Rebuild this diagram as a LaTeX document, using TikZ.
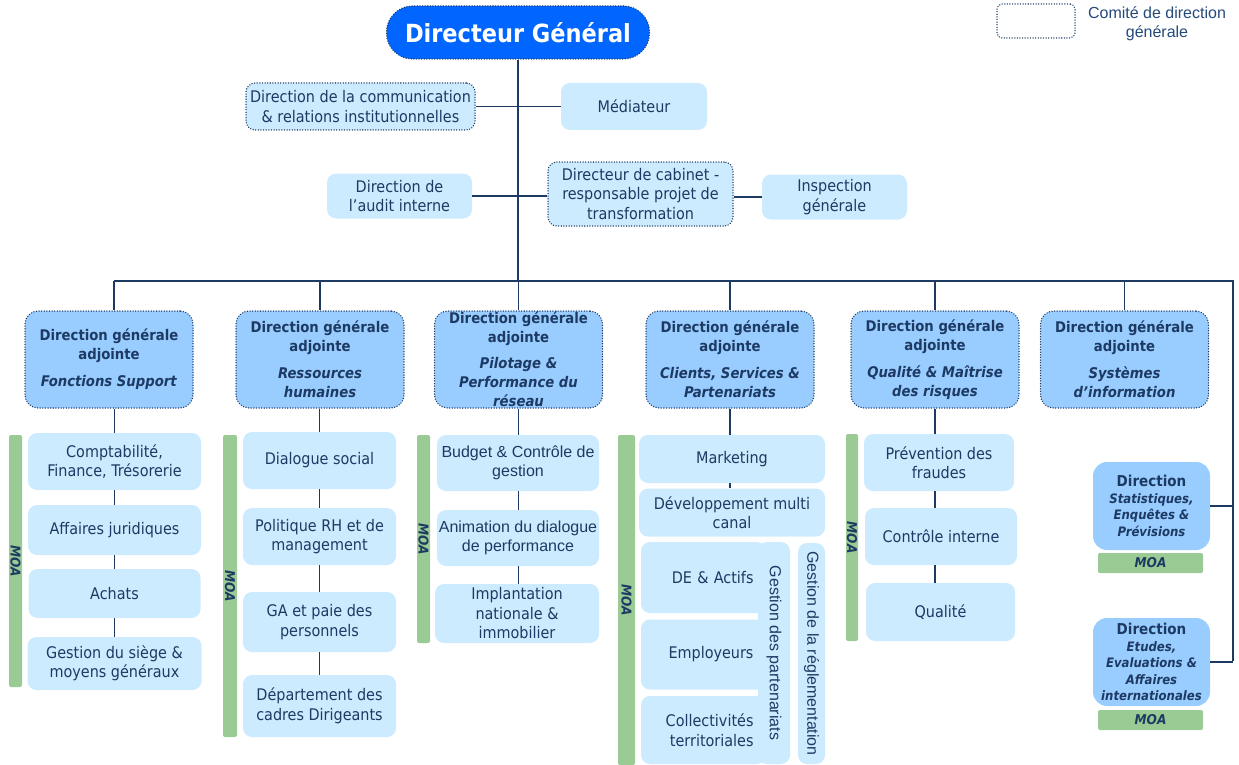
\documentclass[tikz,border=0pt]{standalone}
\usepackage{fontspec}
\setmainfont{DejaVu Sans Condensed}
\newfontfamily\arialf{Liberation Sans}
\definecolor{navy}{HTML}{1D3A63}
\definecolor{legnavy}{HTML}{24497A}
\definecolor{lightb}{HTML}{CCEBFF}
\definecolor{midb}{HTML}{99CCFF}
\definecolor{dgblue}{HTML}{0066FF}
\definecolor{moag}{HTML}{9ACB95}
\tikzset{
  dots/.style={draw=navy, line width=1.5pt, dash pattern=on 0.01pt off 2.6pt, line cap=round},
  basebox/.style={align=center, text=navy, inner sep=0pt, font=\fontsize{16}{19.5}\selectfont},
  lbox/.style={basebox, fill=lightb, rounded corners=9pt},
  cbox/.style={lbox, dots},
  dga/.style={basebox, fill=midb, dots, rounded corners=13pt, minimum width=168pt, minimum height=97pt, font=\fontsize{14.7}{19}\selectfont\bfseries},
  moabar/.style={fill=moag, rounded corners=2pt, inner sep=0pt, text=navy, font=\fontsize{13.5}{13.5}\selectfont\bfseries\itshape},
  arialbox/.style={lbox, font=\arialf\fontsize{16}{19.5}\selectfont},
  dirbox/.style={basebox, fill=midb, rounded corners=14pt, minimum width=117pt, minimum height=88pt, font=\fontsize{13}{16.5}\selectfont\bfseries},
  link/.style={draw=navy, line width=1.3pt},
}
\begin{document}
\begin{tikzpicture}[x=1pt,y=-1pt]
\useasboundingbox (0,0) rectangle (1239,765);
\coordinate (busL) at (114,281);
\coordinate (busR) at (1233,281);
\coordinate (busB) at (1233,661);

% Director
\node[basebox, fill=dgblue, dots, rounded corners=26pt, minimum width=263pt, minimum height=53pt, text=white, font=\fontsize{25}{29}\selectfont\bfseries] (dg) at (518,32.5) {Directeur Général};

% legend
\node[basebox, dots, rounded corners=5pt, minimum width=78pt, minimum height=34pt] (leg) at (1036,21) {};
\node[basebox, text=legnavy, font=\arialf\fontsize{16}{19}\selectfont] (legt) at (1157,23.5) {Comité de direction\\générale};

% top boxes
\node[cbox, minimum width=229pt, minimum height=47pt] (comm) at (360.5,106.5) {Direction de la communication\\\& relations institutionnelles};
\node[lbox, minimum width=146pt, minimum height=47pt] (med) at (634,106.5) {Médiateur};
\node[lbox, minimum width=145pt, minimum height=45pt] (audit) at (399.5,196) {Direction de\\l’audit interne};
\node[cbox, minimum width=185pt, minimum height=64pt] (cab) at (640.5,194) {Directeur de cabinet -\\responsable projet de\\transformation};
\node[lbox, minimum width=145pt, minimum height=45pt] (insp) at (834.5,197) {Inspection\\générale};

% DGA
\node[dga] (g1) at (109,359.5) {Direction générale\\adjointe\\[8pt]\textit{Fonctions Support}};
\node[dga] (g2) at (320,359.5) {Direction générale\\adjointe\\[8pt]\textit{Ressources}\\\textit{humaines}};
\node[dga] (g3) at (518.5,359.5) {Direction générale\\adjointe\\[7pt]\textit{Pilotage \&}\\\textit{Performance du}\\\textit{réseau}};
\node[dga] (g4) at (730,359.5) {Direction générale\\adjointe\\[8pt]\textit{Clients, Services \&}\\\textit{Partenariats}};
\node[dga] (g5) at (935,359.5) {Direction générale\\adjointe\\[8pt]\textit{Qualité \& Maîtrise}\\\textit{des risques}};
\node[dga] (g6) at (1124.5,359.5) {Direction générale\\adjointe\\[8pt]\textit{Systèmes}\\\textit{d’information}};

% column 1
\node[moabar, rotate=-90, minimum width=252pt, minimum height=13pt] (m1) at (15.5,561) {MOA};
\node[lbox, minimum width=173pt, minimum height=57pt] (c1a) at (114.5,461.5) {Comptabilité,\\Finance, Trésorerie};
\node[lbox, minimum width=173pt, minimum height=50pt] (c1b) at (114.5,530) {Affaires juridiques};
\node[lbox, minimum width=172pt, minimum height=49pt] (c1c) at (114.5,593.5) {Achats};
\node[lbox, minimum width=174pt, minimum height=53pt] (c1d) at (114.5,663.5) {Gestion du siège \&\\moyens généraux};

% column 2
\node[moabar, rotate=-90, minimum width=302pt, minimum height=14pt] (m2) at (230,586) {MOA};
\node[lbox, minimum width=153pt, minimum height=57pt] (c2a) at (319.5,460.5) {Dialogue social};
\node[lbox, minimum width=153pt, minimum height=57pt] (c2b) at (319.5,536.5) {Politique RH et de\\management};
\node[lbox, minimum width=153pt, minimum height=60pt] (c2c) at (319.5,622) {GA et paie des\\personnels};
\node[lbox, minimum width=153pt, minimum height=62pt] (c2d) at (319.5,706) {Département des\\cadres Dirigeants};

% column 3
\node[moabar, rotate=-90, minimum width=208pt, minimum height=13pt] (m3) at (423.5,539) {MOA};
\node[arialbox, minimum width=162pt, minimum height=56pt] (c3a) at (518,463) {Budget \& Contrôle de\\gestion};
\node[arialbox, minimum width=162pt, minimum height=56pt] (c3b) at (518,538) {Animation du dialogue\\de performance};
\node[lbox, minimum width=164pt, minimum height=59pt] (c3c) at (517,613.5) {Implantation\\nationale \&\\immobilier};

% column 4
\node[moabar, rotate=-90, minimum width=330pt, minimum height=17pt] (m4) at (626.5,600) {MOA};
\node[lbox, minimum width=186pt, minimum height=48pt] (c4a) at (732,459) {Marketing};
\node[lbox, minimum width=186pt, minimum height=48pt] (c4b) at (732,512.5) {Développement multi\\canal};
\node[lbox, minimum width=125pt, minimum height=71pt, text width=100pt, align=right] (c4c) at (703.5,577.5) {DE \& Actifs};
\node[lbox, minimum width=125pt, minimum height=70pt, text width=100pt, align=right] (c4d) at (703.5,654.5) {Employeurs};
\node[lbox, minimum width=125pt, minimum height=68pt, text width=100pt, align=right] (c4e) at (703.5,730) {Collectivités\\territoriales};
\node[lbox, rotate=-90, minimum width=222pt, minimum height=32pt, font=\arialf\fontsize{16}{18}\selectfont] (gp) at (774,653) {Gestion des partenariats};
\node[lbox, rotate=-90, minimum width=221pt, minimum height=27pt, font=\arialf\fontsize{16}{18}\selectfont] (reg) at (811.5,653.5) {Gestion de la réglementation};

% column 5
\node[moabar, rotate=-90, minimum width=207pt, minimum height=12pt] (m5) at (852,537.5) {MOA};
\node[lbox, minimum width=150pt, minimum height=57pt] (c5a) at (939,462.5) {Prévention des\\fraudes};
\node[lbox, minimum width=152pt, minimum height=57pt] (c5b) at (941,536.5) {Contrôle interne};
\node[lbox, minimum width=149pt, minimum height=58pt] (c5c) at (940.5,612) {Qualité};

% column 6
\node[dirbox] (ds) at (1151.5,506) {{\fontsize{15}{16.5}\selectfont Direction}\\\textit{Statistiques,}\\\textit{Enquêtes \&}\\\textit{Prévisions}};
\node[moabar, minimum width=105pt, minimum height=20pt] (ma) at (1150.5,563) {MOA};
\node[dirbox] (de) at (1151.5,662) {{\fontsize{15}{16.5}\selectfont Direction}\\\textit{Etudes,}\\\textit{Evaluations \&}\\\textit{Affaires}\\\textit{internationales}};
\node[moabar, minimum width=105pt, minimum height=20pt] (mb) at (1150.5,720) {MOA};

% connectors
\draw[link] (dg.south) -- (dg.south |- busL);
\draw[link] (comm.east) -- (med.west);
\draw[link] (audit.east) -- (audit.east -| cab.west);
\draw[link] (cab.east |- insp.west) -- (insp.west);
\draw[link] (busL) -- (busR) -- (busB);
\draw[link] (busL) -- (busL |- g1.north);
\foreach \g in {g2,g3,g4,g5,g6} \draw[link] (\g.north) -- (\g.north |- busL);
\draw[link] (ds.east) -- (ds.east -| busR);
\draw[link] (de.east) -- (de.east -| busR);
% col 1
\draw[link] (c1a.north |- g1.south) -- (c1a.north);
\draw[link] (c1a.south) -- (c1b.north);
\draw[link] (c1b.south) -- (c1c.north);
\draw[link] (c1c.south) -- (c1d.north);
% col 2
\draw[link] (c2a.north |- g2.south) -- (c2a.north);
\draw[link] (c2a.south) -- (c2b.north);
\draw[link] (c2b.south) -- (c2c.north);
\draw[link] (c2c.south) -- (c2d.north);
% col 3
\draw[link] (g3.south) -- (g3.south |- c3a.north);
\draw[link] (c3a.south -| g3.south) -- (c3b.north -| g3.south);
\draw[link] (c3b.south -| g3.south) -- (c3c.north -| g3.south);
% col 4
\draw[link] (g4.south) -- (g4.south |- c4a.north);
\draw[link] (c4a.south -| g4.south) -- (c4b.north -| g4.south);
% col 5
\draw[link] (g5.south) -- (g5.south |- c5a.north);
\draw[link] (c5a.south -| g5.south) -- (c5b.north -| g5.south);
\draw[link] (c5b.south -| g5.south) -- (c5c.north -| g5.south);
\end{tikzpicture}
\end{document}
